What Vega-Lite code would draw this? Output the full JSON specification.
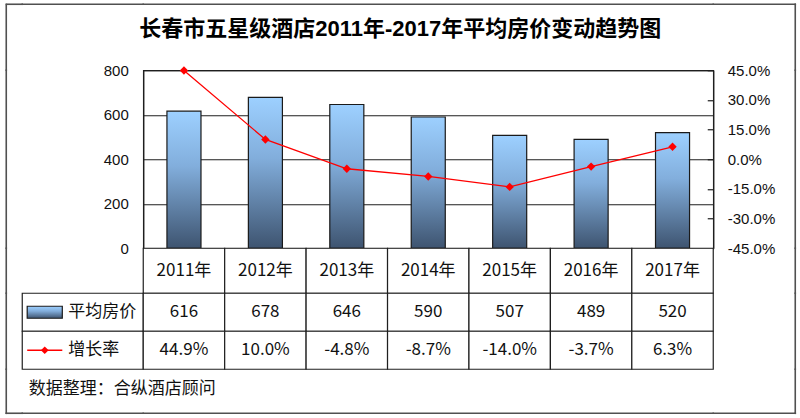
{
  "$schema": "https://vega.github.io/schema/vega-lite/v6.json",
  "background": "white",
  "padding": {"left": 5.25, "top": 3.25, "right": 2, "bottom": 2},
  "autosize": {"type": "pad"},
  "config": {
    "view": {"stroke": null},
    "font": "Liberation Sans",
    "locale": {"number": {"decimal": ".", "thousands": ",", "grouping": [3], "currency": ["", ""], "minus": "-"}}
  },
  "datasets": {
    "hotel": [
      {"year": "2011年", "price": 616, "rate": 0.449},
      {"year": "2012年", "price": 678, "rate": 0.100},
      {"year": "2013年", "price": 646, "rate": -0.048},
      {"year": "2014年", "price": 590, "rate": -0.087},
      {"year": "2015年", "price": 507, "rate": -0.140},
      {"year": "2016年", "price": 489, "rate": -0.037},
      {"year": "2017年", "price": 520, "rate": 0.063}
    ],
    "legend": [
      {"series": "平均房价", "row": "price"},
      {"series": "增长率", "row": "rate"}
    ],
    "none": []
  },
  "spacing": 0,
  "bounds": "flush",
  "align": "each",
  "columns": 6,
  "concat": [
    {"width": 0.01, "height": 0.01, "view": {"stroke": "#505050", "strokeWidth": 1.6}, "data": {"name": "none"}, "mark": "point", "encoding": {}},
    {"width": 15, "height": 0.01, "view": {"stroke": "#505050", "strokeWidth": 1.6}, "data": {"name": "none"}, "mark": "point", "encoding": {}},
    {"width": 121, "height": 0.01, "view": {"stroke": "#505050", "strokeWidth": 1.6}, "data": {"name": "none"}, "mark": "point", "encoding": {}},
    {"width": 570, "height": 0.01, "view": {"stroke": "#505050", "strokeWidth": 1.6}, "data": {"name": "none"}, "mark": "point", "encoding": {}},
    {"width": 82, "height": 0.01, "view": {"stroke": "#505050", "strokeWidth": 1.6}, "data": {"name": "none"}, "mark": "point", "encoding": {}},
    {"width": 0.01, "height": 0.01, "view": {"stroke": "#505050", "strokeWidth": 1.6}, "data": {"name": "none"}, "mark": "point", "encoding": {}},

    {"width": 0.01, "height": 65, "view": {"stroke": "#505050", "strokeWidth": 1.6}, "data": {"name": "none"}, "mark": "point", "encoding": {}},
    {"width": 0.01, "height": 0.01, "data": {"name": "none"}, "mark": "point", "encoding": {}},
    {"width": 0.01, "height": 0.01, "data": {"name": "none"}, "mark": "point", "encoding": {}},
    {"width": 0.01, "height": 0.01, "data": {"name": "none"}, "mark": "point", "encoding": {}},
    {"width": 0.01, "height": 0.01, "data": {"name": "none"}, "mark": "point", "encoding": {}},
    {"width": 0.01, "height": 65, "view": {"stroke": "#505050", "strokeWidth": 1.6}, "data": {"name": "none"}, "mark": "point", "encoding": {}},

    {"width": 0.01, "height": 178, "view": {"stroke": "#505050", "strokeWidth": 1.6}, "data": {"name": "none"}, "mark": "point", "encoding": {}},
    {"width": 0.01, "height": 0.01, "data": {"name": "none"}, "mark": "point", "encoding": {}},
    {"width": 0.01, "height": 0.01, "data": {"name": "none"}, "mark": "point", "encoding": {}},
    {
      "width": 570,
      "height": 178,
      "data": {"name": "hotel"},
      "view": {"stroke": "#1f1f1f", "strokeWidth": 1.2},
      "title": {
        "text": "长春市五星级酒店2011年-2017年平均房价变动趋势图",
        "font": "Liberation Sans, Noto Sans CJK SC",
        "fontSize": 22,
        "fontWeight": "bold",
        "color": "#000000",
        "anchor": "middle",
        "frame": "group",
        "dx": -28,
        "offset": 22
      },
      "layer": [
        {
          "mark": {
            "type": "bar",
            "fill": {"gradient": "linear", "x1": 0, "y1": 0, "x2": 0, "y2": 1,
              "stops": [
                {"offset": 0, "color": "#9DD0FF"},
                {"offset": 0.4, "color": "#82AEDC"},
                {"offset": 1, "color": "#3E5470"}
              ]},
            "stroke": "#1a1a1a",
            "strokeWidth": 1.2
          },
          "encoding": {
            "x": {"field": "year", "type": "nominal", "sort": null,
              "scale": {"paddingInner": 0.582, "paddingOuter": 0.291}, "axis": null},
            "y": {"field": "price", "type": "quantitative",
              "scale": {"domain": [0, 800], "nice": false},
              "axis": {"orient": "left", "values": [0, 200, 400, 600, 800], "title": null,
                "grid": true, "gridColor": "#1f1f1f", "gridWidth": 1.2, "gridOpacity": 1,
                "ticks": false, "domain": true, "domainColor": "#1f1f1f", "domainWidth": 1.2,
                "labelFont": "Liberation Sans", "labelFontSize": 15, "labelColor": "#111111",
                "labelPadding": 15}
            }
          }
        },
        {
          "encoding": {
            "x": {"field": "year", "type": "nominal", "sort": null, "axis": null},
            "y": {"field": "rate", "type": "quantitative",
              "scale": {"domain": [-0.45, 0.45], "nice": false},
              "axis": {"orient": "right", "values": [-0.45, -0.3, -0.15, 0, 0.15, 0.3, 0.45],
                "format": ".1%", "title": null, "grid": false,
                "ticks": true, "tickSize": -6, "tickColor": "#1f1f1f", "tickWidth": 1.2,
                "domain": true, "domainColor": "#1f1f1f", "domainWidth": 1.2,
                "labelFont": "Liberation Sans", "labelFontSize": 15, "labelColor": "#111111",
                "labelPadding": 20}
            }
          },
          "layer": [
            {"mark": {"type": "line", "color": "#FF0000", "strokeWidth": 1.3}},
            {"mark": {"type": "point", "shape": "diamond", "filled": true, "color": "#FF0000", "size": 70, "opacity": 1}}
          ]
        }
      ],
      "resolve": {"scale": {"y": "independent"}}
    },
    {"width": 0.01, "height": 0.01, "data": {"name": "none"}, "mark": "point", "encoding": {}},
    {"width": 0.01, "height": 178, "view": {"stroke": "#505050", "strokeWidth": 1.6}, "data": {"name": "none"}, "mark": "point", "encoding": {}},

    {"width": 0.01, "height": 45, "view": {"stroke": "#505050", "strokeWidth": 1.6}, "data": {"name": "none"}, "mark": "point", "encoding": {}},
    {"width": 0.01, "height": 0.01, "data": {"name": "none"}, "mark": "point", "encoding": {}},
    {"width": 0.01, "height": 0.01, "data": {"name": "none"}, "mark": "point", "encoding": {}},
    {
      "width": 570,
      "height": 45,
      "data": {"name": "hotel"},
      "encoding": {
        "x": {"field": "year", "type": "nominal", "sort": null, "axis": null,
          "scale": {"paddingInner": 0, "paddingOuter": 0}}
      },
      "layer": [
        {"mark": {"type": "rect", "fill": "white", "stroke": "#1f1f1f", "strokeWidth": 1.2}},
        {"mark": {"type": "text", "font": "Noto Sans CJK SC", "fontSize": 17, "color": "#111111"},
         "encoding": {"text": {"field": "year"}}}
      ]
    },
    {"width": 0.01, "height": 0.01, "data": {"name": "none"}, "mark": "point", "encoding": {}},
    {"width": 0.01, "height": 45, "view": {"stroke": "#505050", "strokeWidth": 1.6}, "data": {"name": "none"}, "mark": "point", "encoding": {}},

    {"width": 0.01, "height": 76, "view": {"stroke": "#505050", "strokeWidth": 1.6}, "data": {"name": "none"}, "mark": "point", "encoding": {}},
    {"width": 0.01, "height": 0.01, "data": {"name": "none"}, "mark": "point", "encoding": {}},
    {
      "width": 121,
      "height": 76,
      "data": {"name": "legend"},
      "title": {"text": "数据整理：合纵酒店顾问", "orient": "bottom", "anchor": "start",
        "font": "Noto Sans CJK SC", "fontSize": 17, "fontWeight": "normal", "color": "#111111",
        "offset": 11, "dx": 7},
      "layer": [
        {
          "mark": {"type": "rect", "fill": "white", "stroke": "#1f1f1f", "strokeWidth": 1.2},
          "encoding": {
            "y": {"field": "row", "type": "nominal", "sort": null,
              "scale": {"domain": ["price", "rate"], "paddingInner": 0, "paddingOuter": 0}, "axis": null}
          }
        },
        {
          "transform": [{"filter": "datum.row === 'price'"}],
          "mark": {"type": "rect", "width": {"band": 0.78}, "height": 12,
            "fill": {"gradient": "linear", "x1": 0, "y1": 0, "x2": 0, "y2": 1,
              "stops": [
                {"offset": 0, "color": "#9DD0FF"},
                {"offset": 0.4, "color": "#82AEDC"},
                {"offset": 1, "color": "#3E5470"}
              ]},
            "stroke": "#1a1a1a", "strokeWidth": 1.2},
          "encoding": {
            "x": {"datum": "sym", "type": "nominal",
              "scale": {"domain": ["sym", "lab"], "paddingInner": 0.022, "paddingOuter": 0.326, "align": 0}, "axis": null},
            "y": {"field": "row", "type": "nominal", "sort": null}
          }
        },
        {
          "transform": [{"filter": "datum.row === 'rate'"}],
          "mark": {"type": "rect", "width": {"band": 0.78}, "height": 1.5, "fill": "#FF0000"},
          "encoding": {
            "x": {"datum": "sym", "type": "nominal"},
            "y": {"field": "row", "type": "nominal", "sort": null}
          }
        },
        {
          "transform": [{"filter": "datum.row === 'rate'"}],
          "mark": {"type": "point", "shape": "diamond", "filled": true, "color": "#FF0000", "size": 60, "opacity": 1},
          "encoding": {
            "x": {"datum": "sym", "type": "nominal"},
            "y": {"field": "row", "type": "nominal", "sort": null}
          }
        },
        {
          "mark": {"type": "text", "align": "left", "font": "Noto Sans CJK SC", "fontSize": 17, "color": "#111111"},
          "encoding": {
            "x": {"datum": "lab", "type": "nominal", "bandPosition": 0},
            "y": {"field": "row", "type": "nominal", "sort": null},
            "text": {"field": "series"}
          }
        }
      ]
    },
    {
      "width": 570,
      "height": 76,
      "data": {"name": "hotel"},
      "layer": [
        {
          "mark": {"type": "rect", "fill": "white", "stroke": "#1f1f1f", "strokeWidth": 1.2},
          "encoding": {
            "x": {"field": "year", "type": "nominal", "sort": null, "axis": null,
              "scale": {"paddingInner": 0, "paddingOuter": 0}},
            "y": {"datum": "price", "type": "nominal",
              "scale": {"domain": ["price", "rate"], "paddingInner": 0, "paddingOuter": 0}, "axis": null}
          }
        },
        {
          "mark": {"type": "rect", "fill": "white", "stroke": "#1f1f1f", "strokeWidth": 1.2},
          "encoding": {
            "x": {"field": "year", "type": "nominal", "sort": null},
            "y": {"datum": "rate", "type": "nominal"}
          }
        },
        {
          "mark": {"type": "text", "font": "Noto Sans CJK SC", "fontSize": 17, "color": "#111111"},
          "encoding": {
            "x": {"field": "year", "type": "nominal", "sort": null},
            "y": {"datum": "price", "type": "nominal"},
            "text": {"field": "price"}
          }
        },
        {
          "mark": {"type": "text", "font": "Noto Sans CJK SC", "fontSize": 17, "color": "#111111"},
          "encoding": {
            "x": {"field": "year", "type": "nominal", "sort": null},
            "y": {"datum": "rate", "type": "nominal"},
            "text": {"field": "rate", "format": ".1%"}
          }
        }
      ]
    },
    {"width": 0.01, "height": 0.01, "data": {"name": "none"}, "mark": "point", "encoding": {}},
    {"width": 0.01, "height": 76, "view": {"stroke": "#505050", "strokeWidth": 1.6}, "data": {"name": "none"}, "mark": "point", "encoding": {}},

    {"width": 0.01, "height": 44, "view": {"stroke": "#505050", "strokeWidth": 1.6}, "data": {"name": "none"}, "mark": "point", "encoding": {}},
    {"width": 0.01, "height": 0.01, "data": {"name": "none"}, "mark": "point", "encoding": {}},
    {"width": 0.01, "height": 0.01, "data": {"name": "none"}, "mark": "point", "encoding": {}},
    {"width": 0.01, "height": 0.01, "data": {"name": "none"}, "mark": "point", "encoding": {}},
    {"width": 0.01, "height": 0.01, "data": {"name": "none"}, "mark": "point", "encoding": {}},
    {"width": 0.01, "height": 44, "view": {"stroke": "#505050", "strokeWidth": 1.6}, "data": {"name": "none"}, "mark": "point", "encoding": {}},

    {"width": 0.01, "height": 0.01, "view": {"stroke": "#505050", "strokeWidth": 1.6}, "data": {"name": "none"}, "mark": "point", "encoding": {}},
    {"width": 15, "height": 0.01, "view": {"stroke": "#505050", "strokeWidth": 1.6}, "data": {"name": "none"}, "mark": "point", "encoding": {}},
    {"width": 121, "height": 0.01, "view": {"stroke": "#505050", "strokeWidth": 1.6}, "data": {"name": "none"}, "mark": "point", "encoding": {}},
    {"width": 570, "height": 0.01, "view": {"stroke": "#505050", "strokeWidth": 1.6}, "data": {"name": "none"}, "mark": "point", "encoding": {}},
    {"width": 82, "height": 0.01, "view": {"stroke": "#505050", "strokeWidth": 1.6}, "data": {"name": "none"}, "mark": "point", "encoding": {}},
    {"width": 0.01, "height": 0.01, "view": {"stroke": "#505050", "strokeWidth": 1.6}, "data": {"name": "none"}, "mark": "point", "encoding": {}}
  ]
}
